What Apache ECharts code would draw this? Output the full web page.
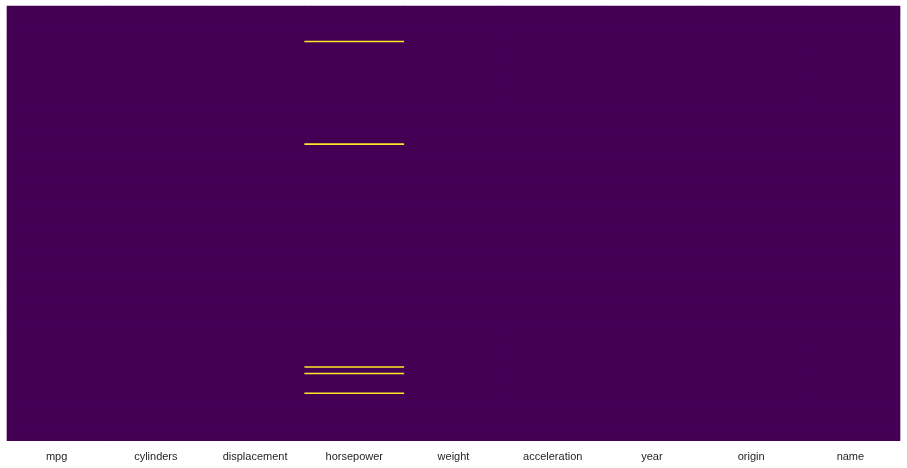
<!DOCTYPE html>
<html>
<head>
<meta charset="utf-8">
<script src="https://cdn.jsdelivr.net/npm/echarts@6/dist/echarts.min.js"></script>
<style>html,body{margin:0;padding:0;background:#fff;}#c{width:907px;height:468px;}</style>
</head>
<body>
<div id="c"></div>
<script>
// Columns of the dataset (x axis tick labels)
var columns = ['mpg', 'cylinders', 'displacement', 'horsepower', 'weight', 'acceleration', 'year', 'origin', 'name'];
// Number of rows in the dataset
var rowCount = 398;
// Row indices with missing values, per column
var missingMpg = [];
var missingCylinders = [];
var missingDisplacement = [];
var missingHorsepower = [32, 126, 330, 336, 354];
var missingWeight = [];
var missingAcceleration = [];
var missingYear = [];
var missingOrigin = [];
var missingName = [];

var missingByColumn = [missingMpg, missingCylinders, missingDisplacement, missingHorsepower,
  missingWeight, missingAcceleration, missingYear, missingOrigin, missingName];

var rows = [];
for (var r = 0; r < rowCount; r++) rows.push(String(r));

// present cells first, missing cells last so they are painted on top
var presentCells = [];
var missingCells = [];
for (var c = 0; c < columns.length; c++) {
  var miss = {};
  missingByColumn[c].forEach(function (i) { miss[i] = true; });
  for (var r2 = 0; r2 < rowCount; r2++) {
    if (miss[r2]) missingCells.push([c, r2, 1]);
    else presentCells.push([c, r2, 0]);
  }
}
var cells = presentCells.concat(missingCells);

var chart = echarts.init(document.getElementById('c'), null, {renderer: 'canvas'});
chart.setOption({
  animation: false,
  backgroundColor: '#ffffff',
  grid: {left: 7, right: 7, top: 6, bottom: 27.3, show: true, backgroundColor: '#440154', borderWidth: 0},
  xAxis: {
    type: 'category', data: columns,
    axisLine: {show: false}, axisTick: {show: false}, splitLine: {show: false},
    axisLabel: {color: '#262626', fontSize: 11, fontFamily: 'Liberation Sans, Arial, sans-serif', margin: 11}
  },
  yAxis: {
    type: 'category', data: rows, inverse: true,
    axisLine: {show: false}, axisTick: {show: false}, axisLabel: {show: false}, splitLine: {show: false}
  },
  visualMap: {
    show: false, type: 'piecewise', dimension: 2,
    pieces: [{value: 0, color: '#440154'}, {value: 1, color: '#fde725'}]
  },
  series: [{
    type: 'heatmap', data: cells, progressive: 0,
    itemStyle: {borderWidth: 0},
    emphasis: {disabled: true}
  }]
});
</script>
</body>
</html>
